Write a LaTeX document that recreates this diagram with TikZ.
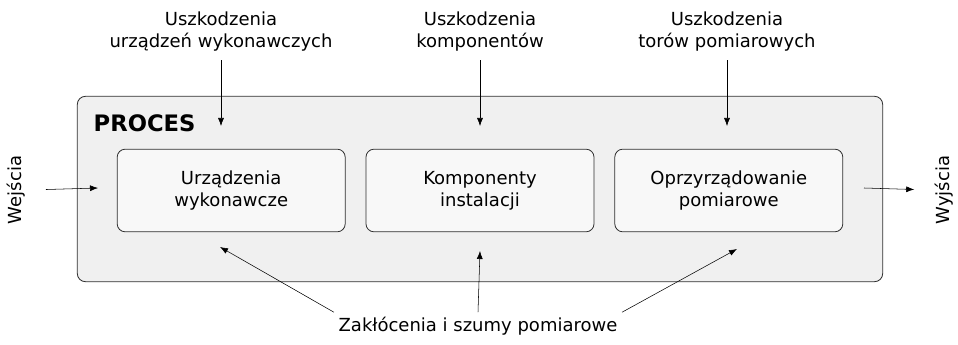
\documentclass[tikz,border=0pt]{standalone}
\usepackage{fontspec}
\setmainfont{DejaVu Sans}
\usepackage{xcolor}
\usepackage{tikz}
\usetikzlibrary{
    positioning,
    arrows.meta
}
\definecolor{procfill}{HTML}{F0F0F0}
\definecolor{blockfill}{HTML}{F8F8F8}
\definecolor{edgegray}{HTML}{2E2E2E}
\tikzset{
  proces/.style = {
      draw=edgegray,
      line width=0.6pt,
      fill=procfill,
      rounded corners=6pt,
      minimum width=604pt,
      minimum height=139pt
  },
  block/.style = {
      draw=edgegray,
      line width=0.6pt,
      fill=blockfill,
      rounded corners=6pt,
      align=center,
      minimum width=171pt,
      minimum height=62pt,
      font=\fontsize{13.5}{16.5}\selectfont
  },
  caption/.style = {
      align=center,
      font=\fontsize{13.5}{16.5}\selectfont
  },
  title/.style = {
      font=\fontsize{17}{20}\selectfont\bfseries
  },
  signal/.style = {
      -{Latex[length=6pt,width=4.5pt]},
      thin
  }
}

\begin{document}
\begin{tikzpicture}[x=0.75pt, y=-0.75pt, node distance=15pt]
    \useasboundingbox (0,0) rectangle (958,345);
    % Nodes
    \node[proces] (proc) at (480,189) {};
    \node[title, anchor=west] (tytul) at (89,123) {PROCES};
    \node[block] (kom) at (480,190.5) {Komponenty\\instalacji};
    \node[block, left=of kom] (urz) {Urządzenia\\wykonawcze};
    \node[block, right=of kom] (opr) {Oprzyrządowanie\\pomiarowe};
    \node[caption] (usz1) at (221,32) {Uszkodzenia\\urządzeń wykonawczych};
    \node[caption] (usz2) at (480,32) {Uszkodzenia\\komponentów};
    \node[caption] (usz3) at (727,32) {Uszkodzenia\\torów pomiarowych};
    \node[caption] (zak) at (478,326) {Zakłócenia i szumy pomiarowe};
    \node[caption, rotate=90] (wej) at (16,190) {Wejścia};
    \node[caption, rotate=90] (wyj) at (944,190) {Wyjścia};
    % Coordinates
    \coordinate (u1) at (221,126);
    \coordinate (u2) at (480,126);
    \coordinate (u3) at (727,126);
    \coordinate (z1) at (220,247);
    \coordinate (z2) at (480,251);
    \coordinate (z3) at (737,249);
    \coordinate (we) at (98,188);
    \coordinate (wy) at (864,188);
    % Edges
    \draw[signal, shorten <=3pt] (usz1.south) -- (u1);
    \draw[signal, shorten <=3pt] (usz2.south) -- (u2);
    \draw[signal, shorten <=3pt] (usz3.south) -- (u3);
    \draw[signal] (zak.north west) -- (z1);
    \draw[signal] (zak.north) -- (z2);
    \draw[signal] (zak.north east) -- (z3);
    \draw[signal, shorten <=12pt] (wej.south) -- (we);
    \draw[signal, shorten >=12pt] (wy) -- (wyj.north);
\end{tikzpicture}
\end{document}
